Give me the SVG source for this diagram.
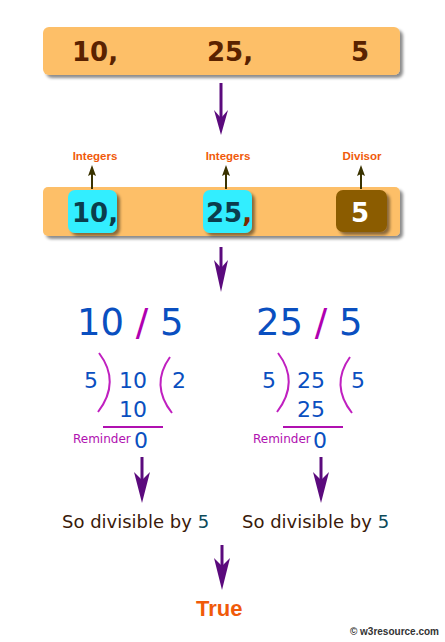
<svg xmlns="http://www.w3.org/2000/svg" width="445" height="642" viewBox="0 0 445 642">
<defs>
<filter id="sh" x="-10%" y="-20%" width="130%" height="160%">
<feDropShadow dx="3" dy="3" stdDeviation="1.6" flood-color="#000" flood-opacity="0.45"/>
</filter>
<style>
.bar{fill:#fdbf68;filter:url(#sh)}
.big{font-family:"DejaVu Sans",sans-serif;font-weight:bold;font-size:26px}
.lbl{font-family:"Liberation Sans",Arial,sans-serif;font-weight:bold;font-size:11.5px;fill:#f05a0a;text-anchor:middle}
.arr{stroke:#5b0a7d;stroke-width:3;fill:none}
.ah{fill:#5b0a7d}
.sarr{stroke:#3a3300;stroke-width:2;fill:none}
.sah{fill:#3a3300}
.div{font-family:"DejaVu Sans",sans-serif;fill:#0a4fc0}
.arc{stroke:#c020c0;stroke-width:2;fill:none}
.rem{font-family:"DejaVu Sans",sans-serif;font-size:12px;fill:#b010b0}
.so{font-family:"DejaVu Sans",sans-serif;font-size:18px;fill:#3a1a0a}
</style>
</defs>
<rect width="445" height="642" fill="#fff"/>

<g id="input-bar">
<rect class="bar" x="43" y="27" width="357" height="48" rx="6"/>
<text class="big" x="72" y="61" fill="#5a2200">10,</text>
<text class="big" x="207" y="61" fill="#5a2200">25,</text>
<text class="big" x="351" y="61" fill="#5a2200">5</text>
</g>

<g id="split-bar">
<rect class="bar" x="43" y="187" width="357" height="49" rx="5"/>
</g>
<g id="int1">
<rect x="68" y="190" width="49" height="43" rx="7" fill="#33eeff" filter="url(#sh)"/>
<text class="big" x="72" y="222" fill="#0b3d4d">10,</text>
<text class="lbl" x="95" y="160">Integers</text>
</g>
<g id="int2">
<rect x="203" y="190" width="49" height="43" rx="7" fill="#33eeff" filter="url(#sh)"/>
<text class="big" x="206" y="222" fill="#0b3d4d">25<tspan fill="#7a2a00">,</tspan></text>
<text class="lbl" x="228" y="160">Integers</text>
</g>
<g id="divisor">
<rect x="336" y="190" width="51" height="42" rx="7" fill="#8b5c00" filter="url(#sh)"/>
<text class="big" x="351" y="222" fill="#fff">5</text>
<text class="lbl" x="362" y="160">Divisor</text>
</g>

<g id="div1">
<text class="div" x="77" y="335" font-size="37">10 <tspan fill="#b000b0">/</tspan> 5</text>
<text class="div" x="84" y="388" font-size="22">5</text>
<path class="arc" d="M99,353 Q121,382 98,412"/>
<text class="div" x="119" y="388" font-size="22">10</text>
<text class="div" x="119" y="417" font-size="22">10</text>
<path class="arc" d="M170,357 Q150,385 172,413"/>
<text class="div" x="172" y="388" font-size="22">2</text>
<line x1="103" y1="427" x2="163" y2="427" stroke="#b010b0" stroke-width="2"/>
<text class="rem" x="73" y="443">Reminder</text>
<text class="div" x="134" y="448" font-size="22">0</text>
</g>

<g id="div2">
<text class="div" x="256" y="335" font-size="37">25 <tspan fill="#b000b0">/</tspan> 5</text>
<text class="div" x="262" y="388" font-size="22">5</text>
<path class="arc" d="M278,353 Q300,382 277,412"/>
<text class="div" x="297" y="388" font-size="22">25</text>
<text class="div" x="297" y="417" font-size="22">25</text>
<path class="arc" d="M350,357 Q330,385 352,413"/>
<text class="div" x="351" y="388" font-size="22">5</text>
<line x1="283" y1="427" x2="343" y2="427" stroke="#b010b0" stroke-width="2"/>
<text class="rem" x="253" y="443">Reminder</text>
<text class="div" x="313" y="448" font-size="22">0</text>
</g>

<g id="res1">
<text class="so" x="62" y="528">So divisible by <tspan fill="#0b4a5a">5</tspan></text>
</g>
<g id="res2">
<text class="so" x="242" y="528">So divisible by <tspan fill="#0b4a5a">5</tspan></text>
</g>

<g id="result">
<text x="196" y="616" font-family="Liberation Sans,Arial,sans-serif" font-weight="bold" font-size="22" fill="#f05a0a">True</text>
</g>

<g id="connectors">
<line class="arr" x1="221" y1="83" x2="221" y2="118"/>
<polygon class="ah" points="221,135 214,110 221,118 228,110"/>
<line class="arr" x1="221" y1="247" x2="221" y2="268"/>
<polygon class="ah" points="221,292 214,260 221,268 228,260"/>
<line class="arr" x1="142" y1="457" x2="142" y2="480"/>
<polygon class="ah" points="142,503 134,472 142,480 150,472"/>
<line class="arr" x1="321" y1="457" x2="321" y2="480"/>
<polygon class="ah" points="321,503 313,472 321,480 329,472"/>
<line class="arr" x1="222" y1="545" x2="222" y2="566"/>
<polygon class="ah" points="222,590 214,558 222,566 230,558"/>
<line class="sarr" x1="92" y1="189" x2="92" y2="172"/>
<polygon class="sah" points="92,165 88,176 92,174 96,176"/>
<line class="sarr" x1="226" y1="189" x2="226" y2="172"/>
<polygon class="sah" points="226,165 222,176 226,174 230,176"/>
<line class="sarr" x1="361" y1="189" x2="361" y2="172"/>
<polygon class="sah" points="361,165 357,176 361,174 365,176"/>
</g>

<text x="439" y="635" text-anchor="end" font-family="Liberation Sans,Arial,sans-serif" font-weight="bold" font-size="10" fill="#333">© w3resource.com</text>
</svg>
